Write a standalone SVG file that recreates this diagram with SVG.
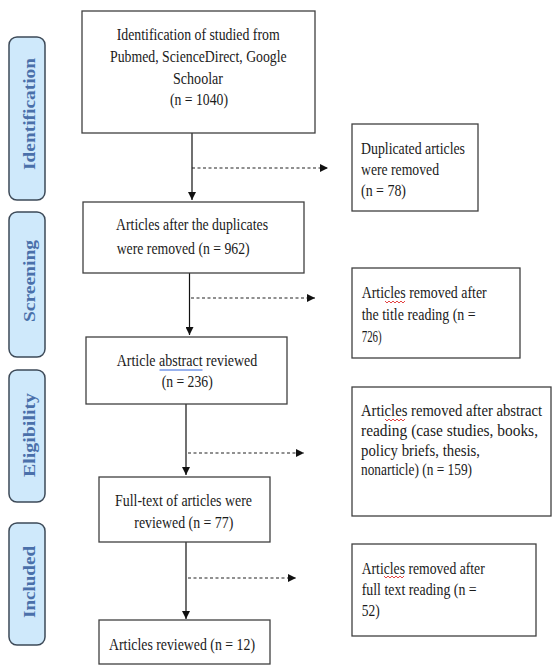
<svg xmlns="http://www.w3.org/2000/svg" width="553" height="666" viewBox="0 0 553 666">
<style>
.box{fill:#fff;stroke:#404040;stroke-width:1.3}
.lane{fill:#cfe9fb;stroke:#3d4a58;stroke-width:1.5}
.t{font-family:"Liberation Serif","Times New Roman",serif;font-size:17px;fill:#1a1a1a}
.lt{font-family:"Liberation Serif","Times New Roman",serif;font-size:17px;font-weight:bold;fill:#4a70aa}
.solid{stroke:#111;stroke-width:1.2;fill:none}
.dash{stroke:#222;stroke-width:1.2;fill:none;stroke-dasharray:3 2.5}
.spell{stroke:#e03030;stroke-width:0.9;fill:none}
</style>
<defs>
<marker id="ah" markerWidth="9" markerHeight="8" refX="8" refY="4" orient="auto" markerUnits="userSpaceOnUse">
<path d="M0,0 L8,4 L0,8 z" fill="#111"/>
</marker>
</defs>

<g id="lanes">
<g id="lane-identification">
<rect class="lane" x="9" y="37" width="36" height="163" rx="8"/>
<text class="lt" transform="translate(35,114) rotate(-90)" text-anchor="middle" textLength="112" lengthAdjust="spacingAndGlyphs">Identification</text>
</g>
<g id="lane-screening">
<rect class="lane" x="9" y="212" width="36" height="145" rx="8"/>
<text class="lt" transform="translate(35,281) rotate(-90)" text-anchor="middle" textLength="82" lengthAdjust="spacingAndGlyphs">Screening</text>
</g>
<g id="lane-eligibility">
<rect class="lane" x="9" y="370" width="36" height="132" rx="8"/>
<text class="lt" transform="translate(35,435) rotate(-90)" text-anchor="middle" textLength="84" lengthAdjust="spacingAndGlyphs">Eligibility</text>
</g>
<g id="lane-included">
<rect class="lane" x="9" y="523" width="36" height="122" rx="8"/>
<text class="lt" transform="translate(35,582) rotate(-90)" text-anchor="middle" textLength="72" lengthAdjust="spacingAndGlyphs">Included</text>
</g>
</g>

<g id="connectors">
<line class="solid" x1="192" y1="133" x2="192" y2="200" marker-end="url(#ah)"/>
<line class="dash" x1="192" y1="168" x2="328" y2="168" marker-end="url(#ah)"/>
<line class="solid" x1="189.5" y1="273" x2="189.5" y2="335" marker-end="url(#ah)"/>
<line class="dash" x1="191" y1="298" x2="315" y2="298" marker-end="url(#ah)"/>
<line class="solid" x1="186" y1="404" x2="186" y2="475" marker-end="url(#ah)"/>
<line class="dash" x1="188" y1="453" x2="304" y2="453" marker-end="url(#ah)"/>
<line class="solid" x1="186" y1="542" x2="186" y2="619" marker-end="url(#ah)"/>
<line class="dash" x1="188" y1="578" x2="296" y2="578" marker-end="url(#ah)"/>
</g>

<g id="identification">
<rect class="box" x="82" y="11" width="233" height="122"/>
<text class="t" x="116.7" y="40" textLength="163" lengthAdjust="spacingAndGlyphs">Identification of studied from</text>
<text class="t" x="110" y="62" textLength="176.7" lengthAdjust="spacingAndGlyphs">Pubmed, ScienceDirect, Google</text>
<text class="t" x="173" y="84" textLength="50" lengthAdjust="spacingAndGlyphs">Schoolar</text>
<text class="t" x="170" y="105" textLength="58" lengthAdjust="spacingAndGlyphs">(n = 1040)</text>
</g>

<g id="duplicates-removed">
<rect class="box" x="352" y="124" width="126" height="87"/>
<text class="t" x="361" y="154" textLength="104" lengthAdjust="spacingAndGlyphs">Duplicated articles</text>
<text class="t" x="361" y="175" textLength="78" lengthAdjust="spacingAndGlyphs">were removed</text>
<text class="t" x="361" y="196" textLength="45" lengthAdjust="spacingAndGlyphs">(n = 78)</text>
</g>

<g id="after-duplicates">
<rect class="box" x="83" y="202" width="221" height="71"/>
<text class="t" x="116" y="230" textLength="152" lengthAdjust="spacingAndGlyphs">Articles after the duplicates</text>
<text class="t" x="116.7" y="254" textLength="133" lengthAdjust="spacingAndGlyphs">were removed (n = 962)</text>
</g>

<g id="title-removed">
<rect class="box" x="352" y="268" width="168" height="90"/>
<text class="t" x="361.7" y="298" textLength="125" lengthAdjust="spacingAndGlyphs">Articles removed after</text>
<text class="t" x="361.7" y="320" textLength="114" lengthAdjust="spacingAndGlyphs">the title reading (n =</text>
<text class="t" x="361.7" y="342" textLength="20" lengthAdjust="spacingAndGlyphs">726)</text>
<path class="spell" d="M385,301 l2,2 l2,-2 l2,2 l2,-2 l2,2 l2,-2 l2,2 l2,-2 l2,2 l2,-2"/>
</g>

<g id="abstract-reviewed">
<rect class="box" x="86" y="337" width="201" height="67"/>
<text class="t" x="116.7" y="366" textLength="140.6" lengthAdjust="spacingAndGlyphs">Article abstract reviewed</text>
<text class="t" x="161.7" y="387" textLength="51" lengthAdjust="spacingAndGlyphs">(n = 236)</text>
<line x1="159.5" y1="370" x2="202.5" y2="370" stroke="#3366dd" stroke-width="1"/>
</g>

<g id="abstract-removed">
<rect class="box" x="352" y="387" width="199" height="129"/>
<g transform="translate(361,0) scale(0.86,1)">
<text class="t" x="0" y="416" textLength="210.5" lengthAdjust="spacingAndGlyphs">Articles removed after abstract</text>
<text class="t" x="0" y="436" textLength="205.8" lengthAdjust="spacingAndGlyphs">reading (case studies, books,</text>
<text class="t" x="0" y="456" textLength="138.4" lengthAdjust="spacingAndGlyphs">policy briefs, thesis,</text>
<text class="t" x="0" y="475" textLength="129.1" lengthAdjust="spacingAndGlyphs">nonarticle) (n = 159)</text>
</g>
<path class="spell" d="M385,419 l2,2 l2,-2 l2,2 l2,-2 l2,2 l2,-2 l2,2 l2,-2 l2,2 l2,-2"/>
</g>

<g id="fulltext-reviewed">
<rect class="box" x="99" y="477" width="171" height="65"/>
<text class="t" x="115" y="506" textLength="137" lengthAdjust="spacingAndGlyphs">Full-text of articles were</text>
<text class="t" x="134.3" y="528" textLength="99" lengthAdjust="spacingAndGlyphs">reviewed (n = 77)</text>
</g>

<g id="fulltext-removed">
<rect class="box" x="352" y="544" width="184" height="92"/>
<text class="t" x="361.7" y="574" textLength="123" lengthAdjust="spacingAndGlyphs">Articles removed after</text>
<text class="t" x="361.7" y="595" textLength="115" lengthAdjust="spacingAndGlyphs">full text reading (n =</text>
<text class="t" x="361.7" y="616" textLength="18" lengthAdjust="spacingAndGlyphs">52)</text>
<path class="spell" d="M384,576 l2,2 l2,-2 l2,2 l2,-2 l2,2 l2,-2 l2,2 l2,-2 l2,2 l2,-2"/>
</g>

<g id="included">
<rect class="box" x="99" y="620" width="171" height="44"/>
<text class="t" x="109" y="650" textLength="146" lengthAdjust="spacingAndGlyphs">Articles reviewed (n = 12)</text>
</g>
</svg>
